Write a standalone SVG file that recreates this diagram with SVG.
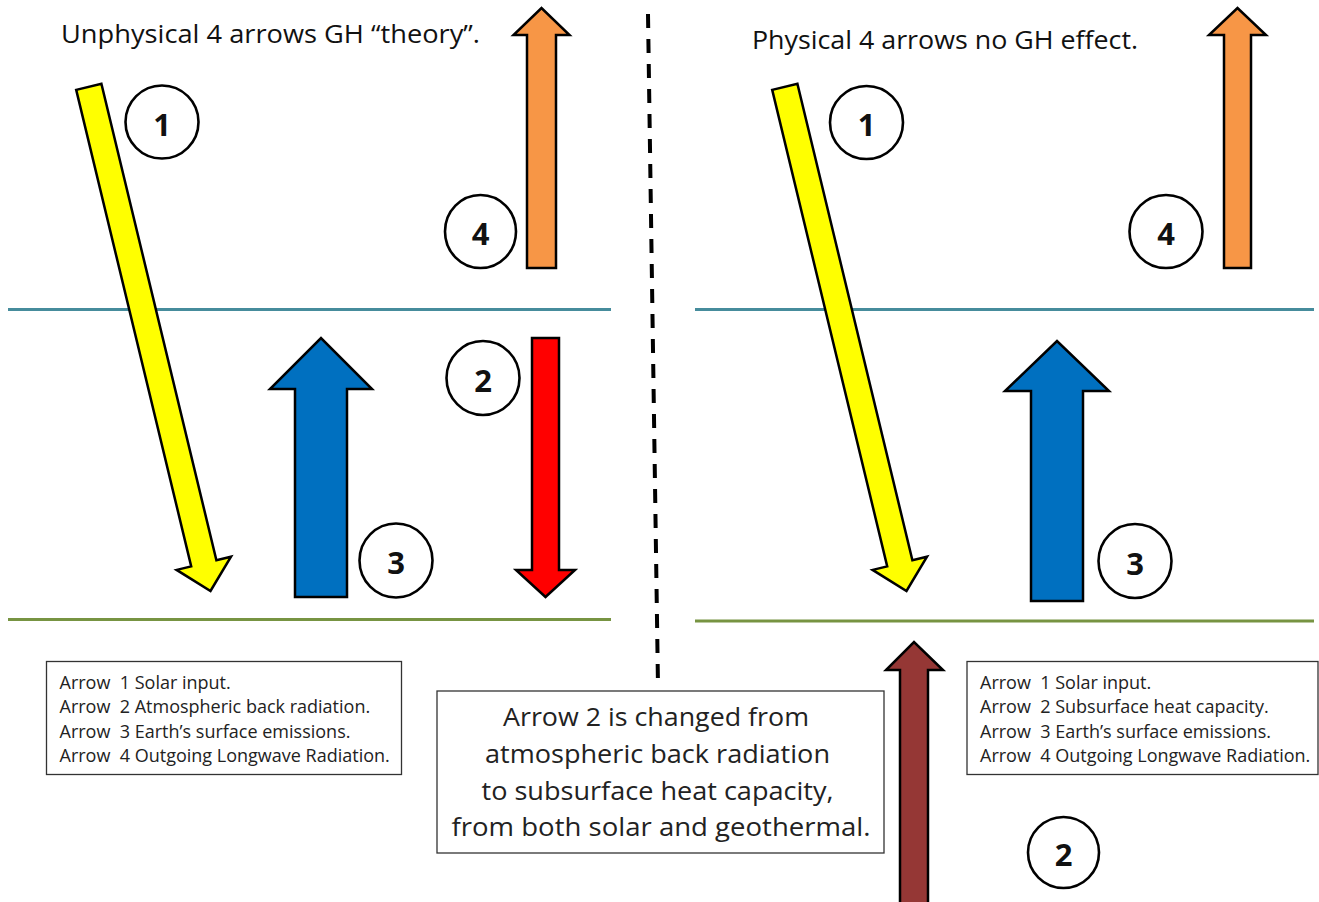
<svg xmlns="http://www.w3.org/2000/svg" width="1319" height="902" viewBox="0 0 1319 902">
<style>
  .arrow { stroke: #000; stroke-width: 2.5; stroke-linejoin: miter; }
  .yellow { fill: #FFFF00; }
  .orange { fill: #F79646; }
  .blue { fill: #0070C0; }
  .red { fill: #FF0000; }
  .brown { fill: #953735; }
  .circ { fill: #fff; stroke: #000; stroke-width: 2.6; }
  .num { font-family: "Open Sans", "Liberation Sans", sans-serif; font-weight: bold; font-size: 31px; fill: #111; text-anchor: middle; }
  .title { font-family: "Open Sans", "Liberation Sans", sans-serif; font-size: 25px; fill: #111; }
  .legbox { fill: #fff; stroke: #333; stroke-width: 1.3; }
  .leg { font-family: "Open Sans", "Liberation Sans", sans-serif; font-size: 18px; fill: #222; white-space: pre; }
  .center { font-family: "Open Sans", "Liberation Sans", sans-serif; font-size: 25px; fill: #222; text-anchor: middle; }
  .teal { stroke: #468C9C; stroke-width: 3.2; }
  .green { stroke: #779442; stroke-width: 3.2; }
</style>
<rect width="1319" height="902" fill="#fff"/>

<g id="layers">
  <line class="teal" x1="8" y1="309.5" x2="611" y2="309.5"/>
  <line class="green" x1="8" y1="619.5" x2="611" y2="619.5"/>
  <line class="teal" x1="695" y1="309.5" x2="1314" y2="309.5"/>
  <line class="green" x1="695" y1="621" x2="1314" y2="621"/>
</g>

<g id="divider">
  <line x1="648" y1="14" x2="658" y2="686" stroke="#000" stroke-width="4" stroke-dasharray="14 11"/>
</g>

<g id="titles">
  <text class="title" x="61" y="43" textLength="419" lengthAdjust="spacingAndGlyphs">Unphysical 4 arrows GH “theory”.</text>
  <text class="title" x="752" y="49" textLength="386" lengthAdjust="spacingAndGlyphs">Physical 4 arrows no GH effect.</text>
</g>

<g id="connectors">
  <polygon id="left-arrow1" class="arrow yellow" points="76.2,89.85 101.4,83.75 216.4,560.25 231,556.7 210.5,591 176.6,569.9 191.2,566.35"/>
  <polygon id="left-arrow4" class="arrow orange" points="527,268 556,268 556,35 569.5,35 541.5,8 513.5,35 527,35"/>
  <polygon id="left-arrow3" class="arrow blue" points="295,597 347,597 347,389 372,389 321,338 270,389 295,389"/>
  <polygon id="left-arrow2" class="arrow red" points="532,338 559,338 559,570 575,570 545.5,597 516,570 532,570"/>

  <polygon id="right-arrow1" class="arrow yellow" transform="translate(696,0)" points="76.2,89.85 101.4,83.75 216.4,560.25 231,556.7 210.5,591 176.6,569.9 191.2,566.35"/>
  <polygon id="right-arrow4" class="arrow orange" points="1224,268 1251,268 1251,35 1266,35 1237.5,8 1209,35 1224,35"/>
  <polygon id="right-arrow3" class="arrow blue" points="1031,601 1083,601 1083,391 1109,391 1057,341 1005,391 1031,391"/>
  <polygon id="right-arrow2" class="arrow brown" points="900,906 928,906 928,670 943,670 914,642 886,670 900,670"/>
</g>

<g id="left-label1"><ellipse class="circ" cx="162" cy="122" rx="36.5" ry="36.5"/><text class="num" x="162" y="135.5">1</text></g>
<g id="left-label4"><ellipse class="circ" cx="480.5" cy="231.5" rx="35.5" ry="36.5"/><text class="num" x="480.5" y="245">4</text></g>
<g id="left-label2"><ellipse class="circ" cx="483" cy="378" rx="36.5" ry="37"/><text class="num" x="483" y="391.5">2</text></g>
<g id="left-label3"><ellipse class="circ" cx="396" cy="560.5" rx="36.5" ry="37"/><text class="num" x="396" y="574">3</text></g>

<g id="right-label1"><ellipse class="circ" cx="866.5" cy="122.5" rx="36.5" ry="36.5"/><text class="num" x="866.5" y="136">1</text></g>
<g id="right-label4"><ellipse class="circ" cx="1166" cy="231.5" rx="36.5" ry="36.5"/><text class="num" x="1166" y="245">4</text></g>
<g id="right-label3"><ellipse class="circ" cx="1135" cy="561" rx="36.5" ry="37"/><text class="num" x="1135" y="574.5">3</text></g>
<g id="right-label2"><ellipse class="circ" cx="1063.5" cy="852.5" rx="35.5" ry="35.5"/><text class="num" x="1063.5" y="866">2</text></g>

<g id="left-legend">
  <rect class="legbox" x="46.5" y="661.5" width="355" height="113"/>
  <text class="leg" x="59.5" y="689">Arrow  1 Solar input.</text>
  <text class="leg" x="59.5" y="713.3">Arrow  2 Atmospheric back radiation.</text>
  <text class="leg" x="59.5" y="737.6">Arrow  3 Earth’s surface emissions.</text>
  <text class="leg" x="59.5" y="762">Arrow  4 Outgoing Longwave Radiation.</text>
</g>

<g id="right-legend">
  <rect class="legbox" x="967" y="661.5" width="351" height="113"/>
  <text class="leg" x="980" y="689">Arrow  1 Solar input.</text>
  <text class="leg" x="980" y="713.3">Arrow  2 Subsurface heat capacity.</text>
  <text class="leg" x="980" y="737.6">Arrow  3 Earth’s surface emissions.</text>
  <text class="leg" x="980" y="762">Arrow  4 Outgoing Longwave Radiation.</text>
</g>

<g id="center-note">
  <rect class="legbox" x="437" y="691" width="447" height="162"/>
  <text class="center" x="656" y="726" textLength="306" lengthAdjust="spacingAndGlyphs">Arrow 2 is changed from</text>
  <text class="center" x="657.5" y="763" textLength="345" lengthAdjust="spacingAndGlyphs">atmospheric back radiation</text>
  <text class="center" x="657.5" y="799.5" textLength="352" lengthAdjust="spacingAndGlyphs">to subsurface heat capacity,</text>
  <text class="center" x="661" y="836" textLength="419" lengthAdjust="spacingAndGlyphs">from both solar and geothermal.</text>
</g>
</svg>
